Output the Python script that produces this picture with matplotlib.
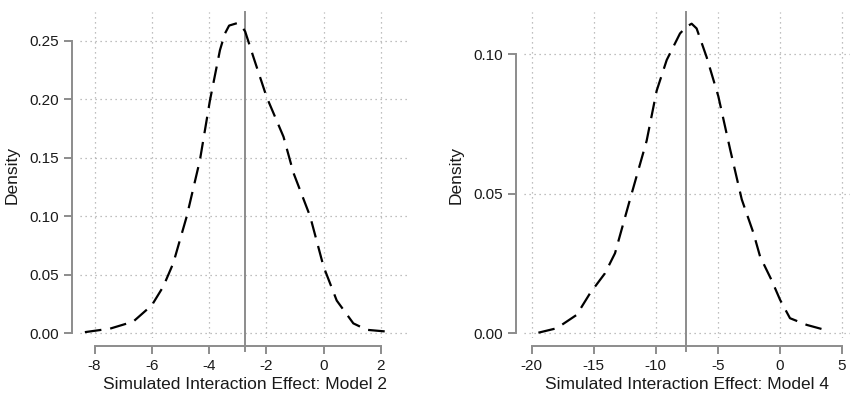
import matplotlib.pyplot as plt

plt.rcParams['font.family'] = ['Liberation Sans', 'DejaVu Sans']

# Model 2 density
m2_x = [-8.34, -7.46, -6.65, -6.0, -5.6, -5.25, -4.78, -4.32, -3.97, -3.62, -3.45, -3.3,
        -3.03, -2.88, -2.74, -2.45, -1.99, -1.40, -1.05, -0.47, 0.0, 0.46, 1.04, 1.51, 2.44]
m2_y = [0.001, 0.004, 0.010, 0.024, 0.040, 0.060, 0.100, 0.148, 0.199, 0.242, 0.256, 0.263,
        0.265, 0.263, 0.258, 0.236, 0.202, 0.168, 0.137, 0.100, 0.057, 0.028, 0.0085, 0.003, 0.001]
m2_line = -2.74

# Model 4 density
m4_x = [-19.46, -17.98, -16.37, -15.3, -14.09, -13.28, -12.07, -10.73, -9.92, -9.11,
        -8.04, -7.5, -7.1, -6.7, -5.89, -4.95, -4.0, -3.06, -2.12, -1.58, -0.65, 0.03,
        0.83, 2.18, 3.66]
m4_y = [0.0002, 0.0018, 0.0066, 0.0143, 0.0215, 0.0287, 0.048, 0.069, 0.087, 0.098,
        0.1075, 0.110, 0.111, 0.1093, 0.099, 0.085, 0.066, 0.048, 0.036, 0.0275, 0.019,
        0.012, 0.0054, 0.003, 0.0012]
m4_line = -7.58

m2_xticks = [-8, -6, -4, -2, 0, 2]
m2_yticks = [0.0, 0.05, 0.10, 0.15, 0.20, 0.25]
m4_xticks = [-20, -15, -10, -5, 0, 5]
m4_yticks = [0.0, 0.05, 0.10]

W, H = 851, 395
fig = plt.figure(figsize=(W / 100, H / 100), dpi=100)
ax1 = fig.add_axes([80 / W, (H - 338) / H, 330 / W, 326 / H])
ax2 = fig.add_axes([524 / W, (H - 338) / H, 326 / W, 326 / H])

gray = '#8c8c8c'


def panel(ax, x, y, vline, xticks, yticks, xlim, ylim, xlabel):
    ax.plot(x, y, color='black', lw=1.6, ls=(0, (7.5, 4)), zorder=3)
    ax.axvline(vline, color=gray, lw=1.4, zorder=2, ymin=-0.04, clip_on=False)
    ax.set_xlim(xlim)
    ax.set_ylim(ylim)
    ax.set_xticks(xticks)
    ax.set_yticks(yticks)
    ax.set_xticklabels([str(t) for t in xticks])
    ax.set_yticklabels(['%.2f' % t for t in yticks])
    ax.grid(True, ls=(0, (1, 3)), color='#aaaaaa', lw=0.9)
    ax.set_axisbelow(True)
    for s in ['top', 'right']:
        ax.spines[s].set_visible(False)
    ax.spines['left'].set_position(('outward', 6))
    ax.spines['bottom'].set_position(('outward', 6))
    ax.spines['left'].set_bounds(yticks[0], yticks[-1])
    ax.spines['bottom'].set_bounds(xticks[0], xticks[-1])
    for s in ['left', 'bottom']:
        ax.spines[s].set_color(gray)
        ax.spines[s].set_linewidth(1.4)
    ax.tick_params(colors=gray, width=1.4, length=6, labelsize=11,
                   labelcolor='#1a1a1a', pad=3)
    ax.set_xlabel(xlabel, fontsize=12.5, color='#1a1a1a', labelpad=3)
    ax.set_ylabel('Density', fontsize=12.5, color='#1a1a1a', labelpad=7)


panel(ax1, m2_x, m2_y, m2_line, m2_xticks, m2_yticks, (-8.51, 3.02), (-0.004, 0.2746),
      'Simulated Interaction Effect: Model 2')
panel(ax2, m4_x, m4_y, m4_line, m4_xticks, m4_yticks, (-20.62, 5.67), (-0.0017, 0.1152),
      'Simulated Interaction Effect: Model 4')

fig.savefig('out.png', dpi=100)
